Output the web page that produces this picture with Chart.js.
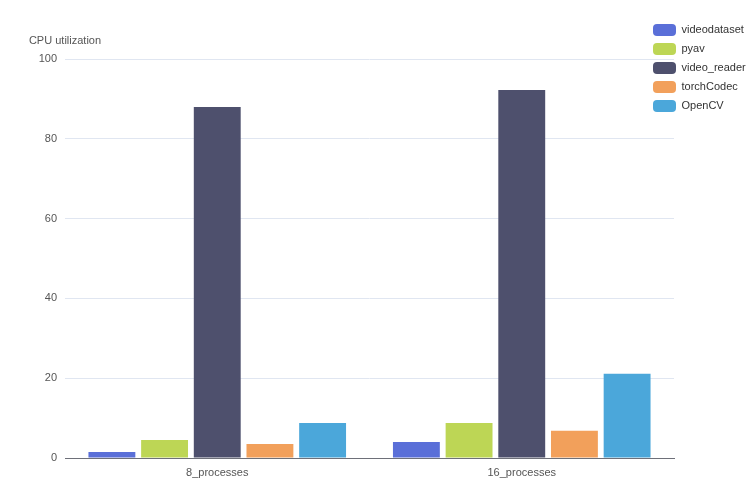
<!DOCTYPE html>
<html>
<head>
<meta charset="utf-8">
<script src="https://cdn.jsdelivr.net/npm/chart.js@4/dist/chart.umd.min.js"></script>
<style>
  body { margin: 0; background: #fff; }
  #wrap { width: 756px; height: 500px; }
</style>
</head>
<body>
<div id="wrap"><canvas id="barChart"></canvas></div>
<script>
const categories = ['8_processes', '16_processes'];
const videodataset = [1.5, 4.0];
const pyav = [4.5, 8.8];
const videoReader = [88.0, 92.2];
const torchCodec = [3.5, 6.8];
const openCV = [8.8, 21.1];
const yTicks = [0, 20, 40, 60, 80, 100];

const font = "'Liberation Sans', Arial, sans-serif";
Chart.defaults.font.family = font;

// put the legend where the reference has it (top right, over the plot edge)
const legendPlace = {
    id: 'legendPlace',
    afterLayout(chart) {
        let lg = chart.legend;
        lg.left = 646;
        lg.right = 756;
        lg.top = 17;
        lg.bottom = 500;
    }
};

const axisName = {
    id: 'axisName',
    afterDraw(chart) {
        let ctx = chart.ctx;
        ctx.save();
        ctx.font = '11px ' + font;
        ctx.fillStyle = '#555';
        ctx.textAlign = 'center';
        ctx.textBaseline = 'middle';
        ctx.fillText('CPU utilization', chart.chartArea.left, 41);
        ctx.restore();
    }
};

function series(label, data, color) {
    return {
        label: label,
        data: data,
        backgroundColor: color,
        borderWidth: 0,
        barPercentage: 0.89,
        categoryPercentage: 0.865
    };
}

let ctx = document.getElementById('barChart').getContext('2d');
let chart = new Chart(ctx, {
    type: 'bar',
    data: {
        labels: categories,
        datasets: [
            series('videodataset', videodataset, '#5a6fd8'),
            series('pyav', pyav, '#bdd655'),
            series('video_reader', videoReader, '#4e506d'),
            series('torchCodec', torchCodec, '#f2a05b'),
            series('OpenCV', openCV, '#4ba7da')
        ]
    },
    options: {
        responsive: true,
        maintainAspectRatio: false,
        animation: false,
        layout: { padding: { top: 59, right: 81, left: 0, bottom: 0 } },
        plugins: {
            title: { display: false },
            tooltip: { enabled: false },
            legend: {
                position: 'right',
                align: 'start',
                maxWidth: 1,
                labels: {
                    boxWidth: 23,
                    boxHeight: 12,
                    padding: 7,
                    color: '#333',
                    useBorderRadius: true,
                    borderRadius: 4,
                    font: { size: 11 }
                }
            }
        },
        scales: {
            x: {
                grid: { display: false },
                border: { color: '#6e7079', width: 1 },
                ticks: { color: '#555', font: { size: 11 }, padding: 0 },
                afterFit(scale) { scale.height = 42; }
            },
            y: {
                min: 0,
                max: 100,
                afterBuildTicks(scale) { scale.ticks = yTicks.map(v => ({ value: v })); },
                grid: { color: '#e0e6f1', drawTicks: false },
                border: { display: false },
                ticks: { color: '#555', font: { size: 11 }, padding: 8 },
                afterFit(scale) { scale.width = 65; }
            }
        }
    },
    plugins: [legendPlace, axisName]
});
</script>
</body>
</html>
